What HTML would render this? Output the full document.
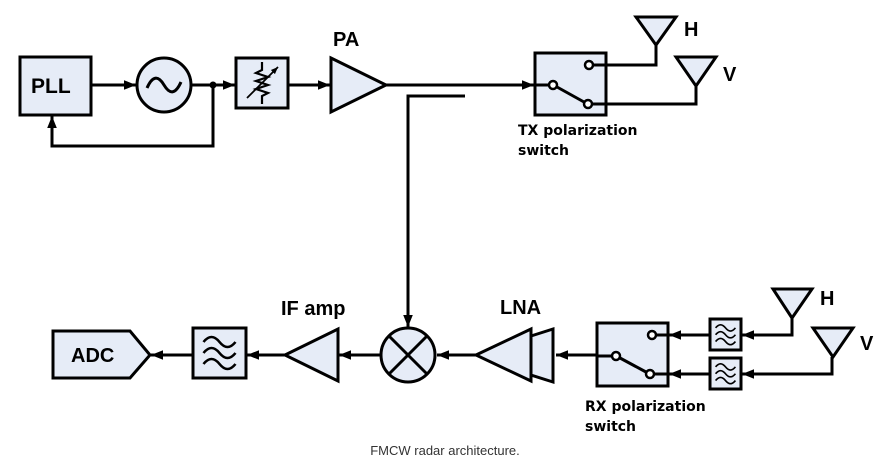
<!DOCTYPE html>
<html><head><meta charset="utf-8"><style>
html,body{margin:0;padding:0;background:#fff;}
svg{display:block;}
text{font-family:"Liberation Sans",sans-serif;font-weight:bold;fill:#000;}
</style></head><body>
<svg width="887" height="461" viewBox="0 0 887 461" xmlns="http://www.w3.org/2000/svg">
<defs>
<marker id="a" viewBox="0 0 10 10" refX="10" refY="5" markerWidth="4" markerHeight="4" orient="auto"><path d="M0,1 L10,5 L0,9 z" fill="#000"/></marker>
<g id="wav" fill="none" stroke="#000" stroke-width="2.6">
<path d="M-16,-9 q8,-10 16,0 t16,0"/><path d="M-16,2 q8,-10 16,0 t16,0"/><path d="M-16,13 q8,-10 16,0 t16,0"/>
</g>
</defs>
<g stroke="#000" stroke-width="3" fill="#e6ecf7">
<rect x="20" y="57" width="71" height="58"/>
<line x1="91" y1="85" x2="136" y2="85" marker-end="url(#a)"/>
<circle cx="164" cy="85" r="27"/>
<path d="M147,88 q8,-18 17,-3 t17,-3" fill="none"/>
<line x1="191" y1="85" x2="235" y2="85" marker-end="url(#a)"/>
<circle cx="213" cy="85" r="2" fill="#000"/>
<polyline points="213,85 213,146 52,146 52,116" fill="none" marker-end="url(#a)"/>
<rect x="236" y="58" width="52" height="50"/>
<path d="M262,62 v8 l-6,3 l12,4 l-12,4 l12,4 l-12,4 l12,4 l-6,3 v8" fill="none" stroke-width="2.2"/>
<line x1="247" y1="98" x2="278" y2="67" stroke-width="1.8" marker-end="url(#a)"/>
<line x1="288" y1="85" x2="330" y2="85" marker-end="url(#a)"/>
<polygon points="331,58 386,85 331,112"/>
<line x1="386" y1="85" x2="534" y2="85" marker-end="url(#a)"/>
<polyline points="465,96 408,96 408,327" fill="none" marker-end="url(#a)"/>
<rect x="535" y="53" width="71" height="62"/>
<line x1="535" y1="85" x2="549" y2="85"/>
<line x1="557" y1="87" x2="584" y2="102"/>
<circle cx="553" cy="85" r="4" fill="#fff" stroke-width="2.5"/>
<circle cx="589" cy="65" r="4" fill="#fff" stroke-width="2.5"/>
<circle cx="588" cy="104" r="4" fill="#fff" stroke-width="2.5"/>
<polyline points="593,65 656,65 656,45" fill="none"/>
<polyline points="592,104 696,104 696,86" fill="none"/>
<polygon points="636,17 676,17 656,45"/>
<polygon points="676,57 716,57 696,86"/>
<polygon points="53,331 130,331 150,355 130,378 53,378"/>
<line x1="193" y1="355" x2="151" y2="355" marker-end="url(#a)"/>
<rect x="193" y="328" width="53" height="50"/>
<line x1="285" y1="355" x2="247" y2="355" marker-end="url(#a)"/>
<polygon points="285,355 338,329 338,381"/>
<line x1="381" y1="355" x2="339" y2="355" marker-end="url(#a)"/>
<circle cx="408" cy="355" r="27"/>
<line x1="389" y1="336" x2="427" y2="374"/><line x1="427" y1="336" x2="389" y2="374"/>
<line x1="476" y1="355" x2="437" y2="355" marker-end="url(#a)"/>
<polygon points="531,336 553,329 553,382 531,375"/>
<polygon points="476,355 531,329 531,381"/>
<line x1="597" y1="355" x2="556" y2="355" marker-end="url(#a)"/>
<rect x="597" y="323" width="71" height="63"/>
<line x1="612" y1="356" x2="597" y2="356"/>
<line x1="620" y1="358" x2="646" y2="372"/>
<circle cx="616" cy="356" r="4" fill="#fff" stroke-width="2.5"/>
<circle cx="652" cy="335" r="4" fill="#fff" stroke-width="2.5"/>
<circle cx="650" cy="374" r="4" fill="#fff" stroke-width="2.5"/>
<line x1="710" y1="335" x2="669" y2="335" marker-end="url(#a)"/>
<line x1="710" y1="374" x2="669" y2="374" marker-end="url(#a)"/>
<line x1="656" y1="335" x2="669" y2="335"/>
<line x1="654" y1="374" x2="669" y2="374"/>
<rect x="710" y="319" width="31" height="31"/>
<rect x="710" y="358" width="31" height="31"/>
<polyline points="792,318 792,335 742,335" fill="none" marker-end="url(#a)"/>
<polyline points="832,357 832,374 742,374" fill="none" marker-end="url(#a)"/>
<polygon points="773,289 812,289 792,318"/>
<polygon points="813,328 853,328 833,357"/>
</g>
<use href="#wav" x="219.5" y="351"/>
<g transform="translate(725.5,333.5) scale(0.62)"><use href="#wav"/></g>
<g transform="translate(725.5,372.5) scale(0.62)"><use href="#wav"/></g>
<text x="31" y="93" font-size="21">PLL</text>
<text x="333" y="46" font-size="20">PA</text>
<text x="684" y="36" font-size="20">H</text>
<text x="723" y="81" font-size="20">V</text>
<text x="518" y="135" font-size="14" style="font-family:'DejaVu Sans',sans-serif">TX polarization</text>
<text x="518" y="155" font-size="14" style="font-family:'DejaVu Sans',sans-serif">switch</text>
<text x="71" y="362" font-size="20">ADC</text>
<text x="281" y="315" font-size="20">IF amp</text>
<text x="500" y="314" font-size="20">LNA</text>
<text x="820" y="305" font-size="20">H</text>
<text x="860" y="350" font-size="20">V</text>
<text x="585" y="411" font-size="14" style="font-family:'DejaVu Sans',sans-serif">RX polarization</text>
<text x="585" y="431" font-size="14" style="font-family:'DejaVu Sans',sans-serif">switch</text>
<text x="445" y="455" font-size="13" text-anchor="middle" style="font-weight:normal;fill:#333">FMCW radar architecture.</text>
</svg>
</body></html>
